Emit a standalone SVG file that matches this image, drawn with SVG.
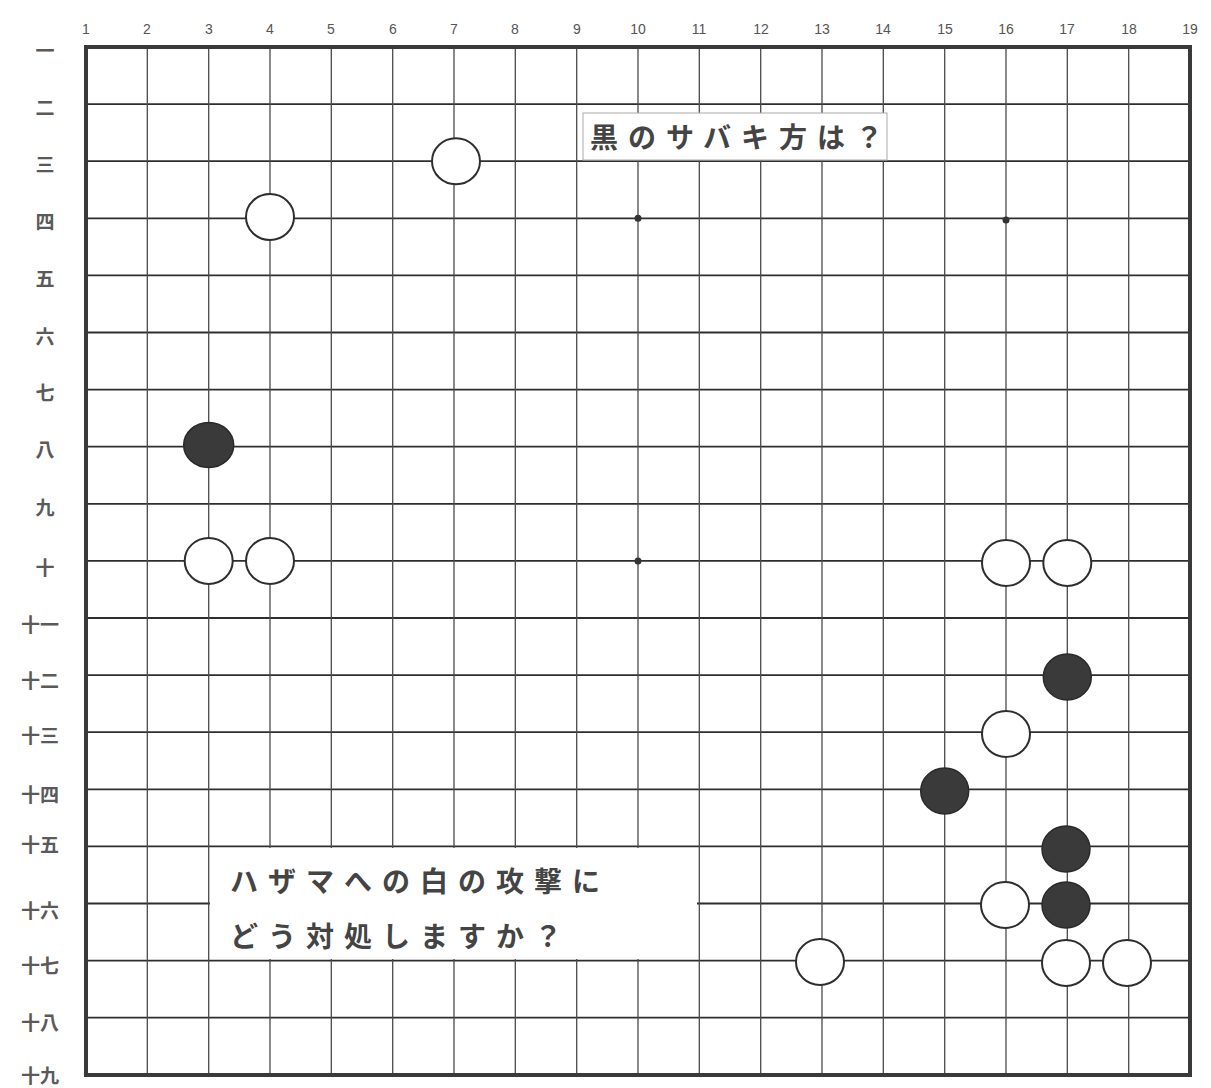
<svg xmlns="http://www.w3.org/2000/svg" width="1211" height="1088" viewBox="0 0 1211 1088">
<style>
.h{stroke:#2e2e2e;stroke-width:1.8}
.v{stroke:#4a4a4a;stroke-width:1.3}
.b{fill:#3a3a3a;stroke:#2a2a2a;stroke-width:1.5}
.w{fill:#fff;stroke:#2e2e2e;stroke-width:2}
.star{fill:#333}
.cl{font-family:"Liberation Sans",Arial,sans-serif;font-size:14px;fill:#555;text-anchor:middle}
.rl{font-family:"Noto Sans CJK JP","Noto Sans CJK SC",sans-serif;font-size:19px;font-weight:bold;fill:#5a5a5a;text-anchor:middle}
.q{font-family:"Noto Sans CJK JP","Noto Sans CJK SC",sans-serif;font-size:28px;font-weight:bold;fill:#444;letter-spacing:10px}
</style>
<rect width="1211" height="1088" fill="#fff"/>
<g id="column-labels" class="cl">
<text x="86" y="34">1</text><text x="147" y="34">2</text><text x="209" y="34">3</text><text x="270" y="34">4</text><text x="331" y="34">5</text><text x="393" y="34">6</text><text x="454" y="34">7</text><text x="515" y="34">8</text><text x="577" y="34">9</text><text x="638" y="34">10</text><text x="699" y="34">11</text><text x="761" y="34">12</text><text x="822" y="34">13</text><text x="883" y="34">14</text><text x="945" y="34">15</text><text x="1006" y="34">16</text><text x="1067" y="34">17</text><text x="1129" y="34">18</text><text x="1190" y="34">19</text>
</g>
<g id="row-labels" class="rl">
<text x="45" y="58">一</text><text x="45" y="115">二</text><text x="45" y="172">三</text><text x="45" y="229">四</text><text x="45" y="286">五</text><text x="45" y="344">六</text><text x="45" y="400">七</text><text x="45" y="457">八</text><text x="45" y="515">九</text><text x="45" y="575">十</text><text x="40" y="632">十一</text><text x="40" y="688">十二</text><text x="40" y="743">十三</text><text x="40" y="802">十四</text><text x="40" y="852">十五</text><text x="40" y="918">十六</text><text x="40" y="973">十七</text><text x="40" y="1030">十八</text><text x="40" y="1083">十九</text>
</g>
<g id="grid">
<line class="h" x1="86" y1="104.1" x2="1190" y2="104.1"/>
<line class="h" x1="86" y1="161.2" x2="1190" y2="161.2"/>
<line class="h" x1="86" y1="218.3" x2="1190" y2="218.3"/>
<line class="h" x1="86" y1="275.4" x2="1190" y2="275.4"/>
<line class="h" x1="86" y1="332.5" x2="1190" y2="332.5"/>
<line class="h" x1="86" y1="389.6" x2="1190" y2="389.6"/>
<line class="h" x1="86" y1="446.7" x2="1190" y2="446.7"/>
<line class="h" x1="86" y1="503.8" x2="1190" y2="503.8"/>
<line class="h" x1="86" y1="560.9" x2="1190" y2="560.9"/>
<line class="h" x1="86" y1="618" x2="1190" y2="618"/>
<line class="h" x1="86" y1="675.1" x2="1190" y2="675.1"/>
<line class="h" x1="86" y1="732.2" x2="1190" y2="732.2"/>
<line class="h" x1="86" y1="789.3" x2="1190" y2="789.3"/>
<line class="h" x1="86" y1="846.4" x2="1190" y2="846.4"/>
<line class="h" x1="86" y1="903.5" x2="1190" y2="903.5"/>
<line class="h" x1="86" y1="960.6" x2="1190" y2="960.6"/>
<line class="h" x1="86" y1="1017.7" x2="1190" y2="1017.7"/>
<line class="v" x1="147.3" y1="47" x2="147.3" y2="1075"/>
<line class="v" x1="208.7" y1="47" x2="208.7" y2="1075"/>
<line class="v" x1="270" y1="47" x2="270" y2="1075"/>
<line class="v" x1="331.3" y1="47" x2="331.3" y2="1075"/>
<line class="v" x1="392.7" y1="47" x2="392.7" y2="1075"/>
<line class="v" x1="454" y1="47" x2="454" y2="1075"/>
<line class="v" x1="515.3" y1="47" x2="515.3" y2="1075"/>
<line class="v" x1="576.7" y1="47" x2="576.7" y2="1075"/>
<line class="v" x1="638" y1="47" x2="638" y2="1075"/>
<line class="v" x1="699.3" y1="47" x2="699.3" y2="1075"/>
<line class="v" x1="760.7" y1="47" x2="760.7" y2="1075"/>
<line class="v" x1="822" y1="47" x2="822" y2="1075"/>
<line class="v" x1="883.3" y1="47" x2="883.3" y2="1075"/>
<line class="v" x1="944.7" y1="47" x2="944.7" y2="1075"/>
<line class="v" x1="1006" y1="47" x2="1006" y2="1075"/>
<line class="v" x1="1067.3" y1="47" x2="1067.3" y2="1075"/>
<line class="v" x1="1128.7" y1="47" x2="1128.7" y2="1075"/>
<rect x="86" y="47" width="1104" height="1028" fill="none" stroke="#3a3a3a" stroke-width="4"/>
<circle class="star" cx="638" cy="218.3" r="3.5"/>
<circle class="star" cx="1006" cy="220" r="3.5"/>
<circle class="star" cx="638" cy="560.9" r="3.5"/>
</g>
<g id="question-top">
<rect x="583" y="113" width="304" height="47" fill="#fff" stroke="#aaa" stroke-width="1"/>
<text class="q" x="590" y="148">黒のサバキ方は？</text>
</g>
<g id="question-bottom">
<rect x="210" y="848" width="487" height="111" fill="#fff"/>
<text class="q" x="230" y="892">ハザマへの白の攻撃に</text>
<text class="q" x="230" y="947">どう対処しますか？</text>
</g>
<g id="stones">
<g id="w-7-3"><ellipse class="w" cx="456" cy="161.2" rx="24" ry="23"/></g>
<g id="w-4-4"><ellipse class="w" cx="270" cy="217" rx="24" ry="23"/></g>
<g id="b-3-8"><ellipse class="b" cx="208.7" cy="445" rx="25" ry="22.5"/></g>
<g id="w-3-10"><ellipse class="w" cx="208.7" cy="560.9" rx="24" ry="23"/></g>
<g id="w-4-10"><ellipse class="w" cx="270" cy="560.9" rx="24" ry="23"/></g>
<g id="w-16-10"><ellipse class="w" cx="1006" cy="563" rx="24" ry="23"/></g>
<g id="w-17-10"><ellipse class="w" cx="1067.3" cy="563" rx="24" ry="23"/></g>
<g id="b-17-12"><ellipse class="b" cx="1067.3" cy="677" rx="24" ry="23"/></g>
<g id="w-16-13"><ellipse class="w" cx="1006" cy="734" rx="24" ry="23"/></g>
<g id="b-15-14"><ellipse class="b" cx="944.7" cy="791" rx="24" ry="23"/></g>
<g id="b-17-15"><ellipse class="b" cx="1066" cy="849" rx="24" ry="23"/></g>
<g id="w-16-16"><ellipse class="w" cx="1005" cy="905" rx="24" ry="23"/></g>
<g id="b-17-16"><ellipse class="b" cx="1066" cy="905" rx="24" ry="23"/></g>
<g id="w-13-17"><ellipse class="w" cx="820" cy="962" rx="24" ry="23"/></g>
<g id="w-17-17"><ellipse class="w" cx="1066" cy="963" rx="24" ry="23"/></g>
<g id="w-18-17"><ellipse class="w" cx="1127" cy="963" rx="24" ry="23"/></g>
</g>
</svg>
